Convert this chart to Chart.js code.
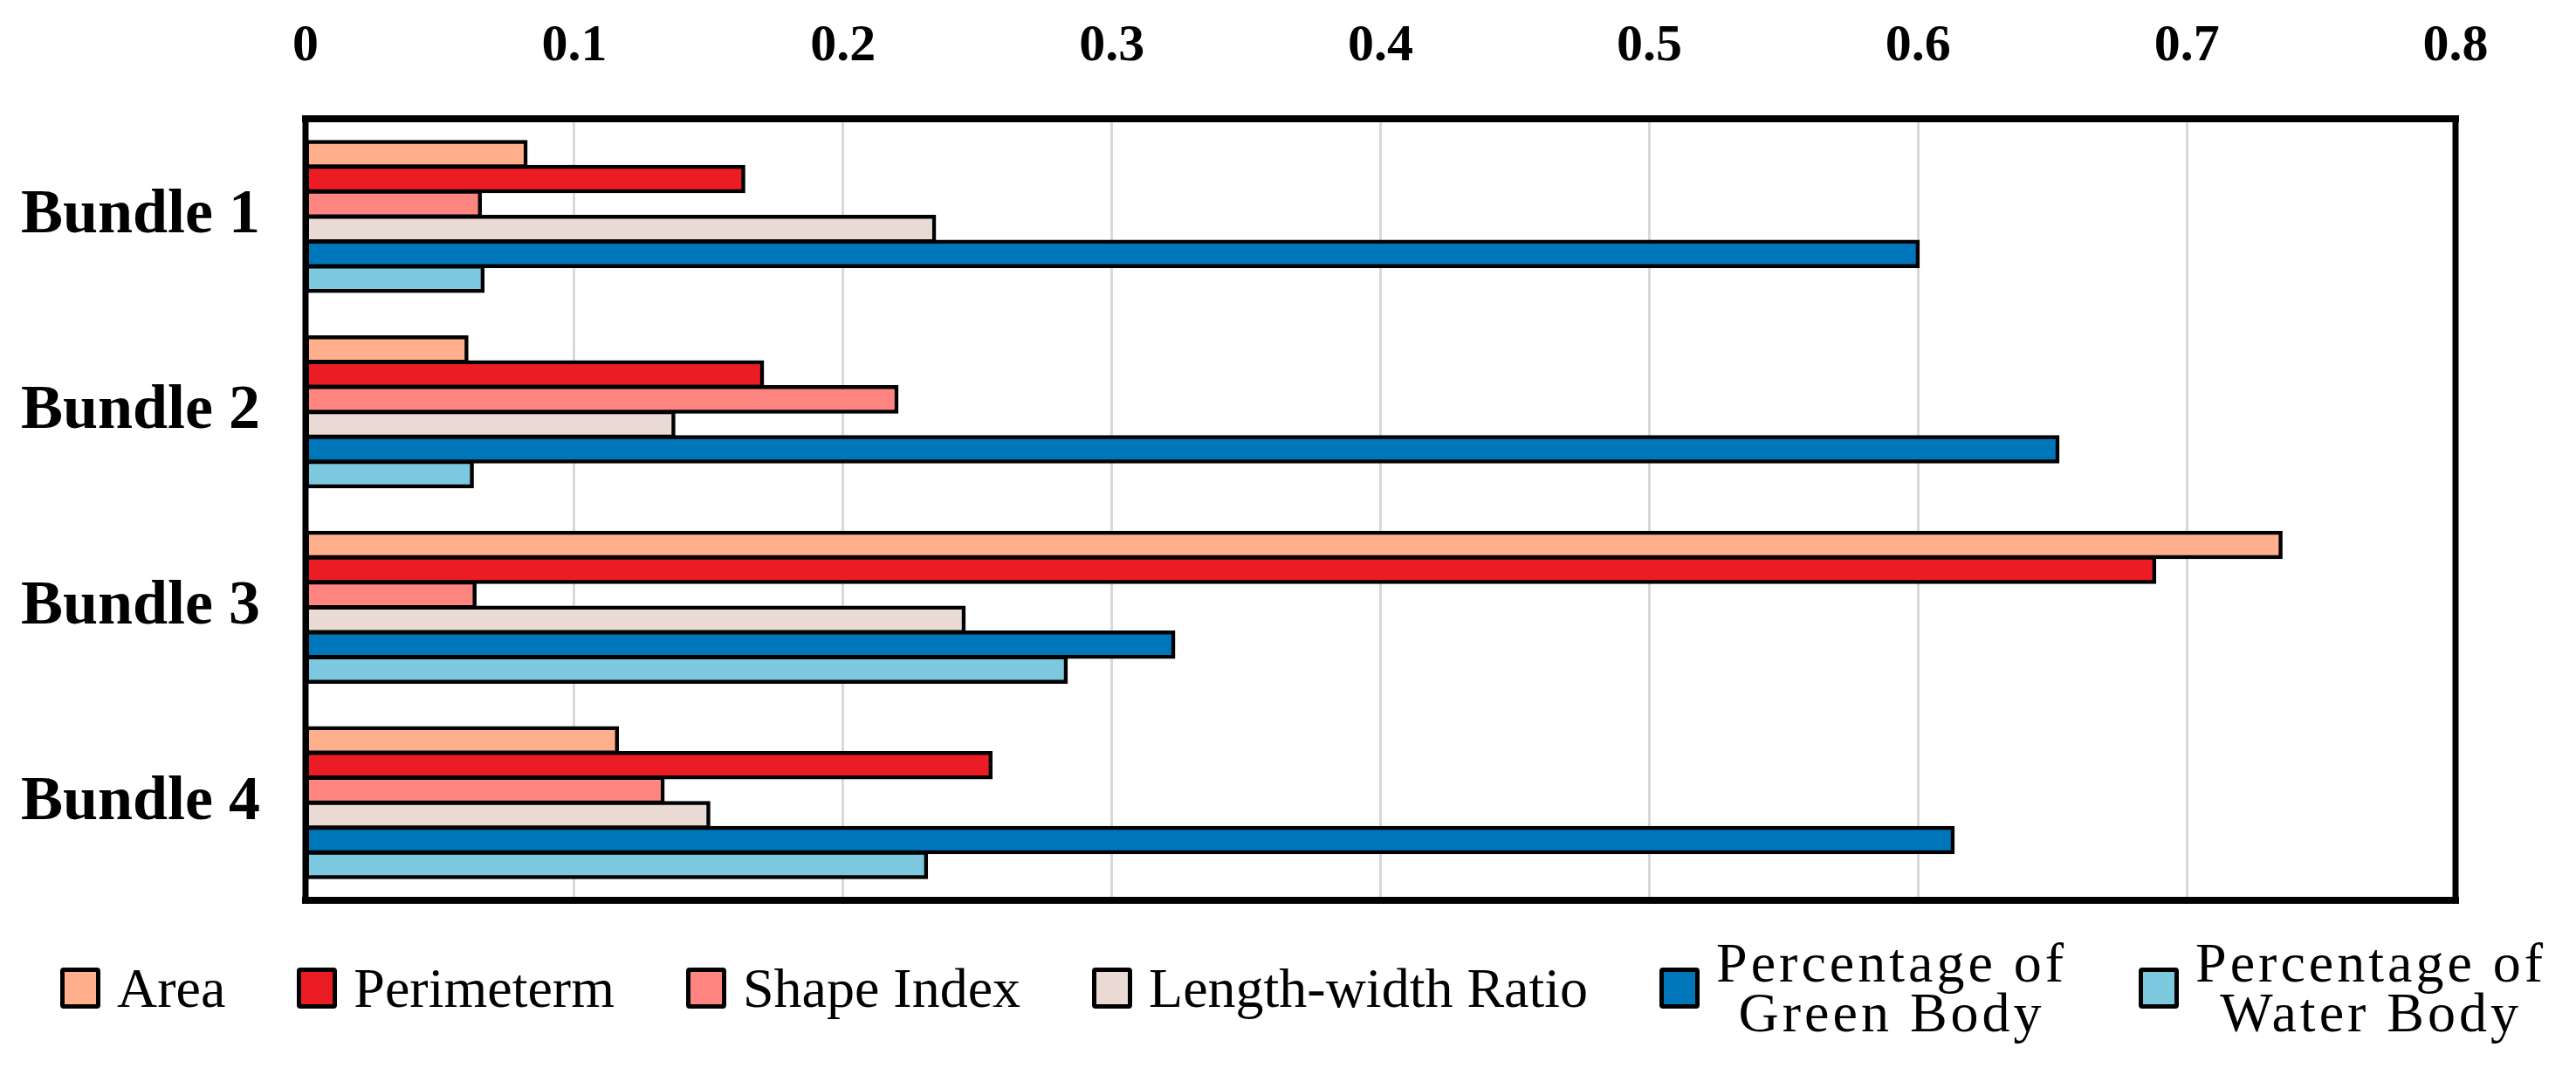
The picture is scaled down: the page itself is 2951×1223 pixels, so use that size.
<!DOCTYPE html>
<html>
<head>
<meta charset="utf-8">
<script src="https://cdn.jsdelivr.net/npm/chart.js@4.4.1/dist/chart.umd.min.js"></script>
<style>
  html, body { margin: 0; padding: 0; background: #ffffff; }
  #wrap { position: relative; width: 2951px; height: 1223px; background: #ffffff; overflow: hidden; }
  #chart { position: absolute; left: 0; top: 0; }
  #legend {
    position: absolute; left: 69px; top: 1074px; height: 114px;
    display: flex; align-items: center;
    font-family: 'Liberation Serif', 'Times New Roman', serif;
    font-size: 64px; line-height: 57px; color: #000;
  }
  .item { display: flex; align-items: center; margin-right: 82px; }
  .item:last-child { margin-right: 0; }
  .box {
    width: 46px; height: 47px; box-sizing: border-box;
    border: 5px solid #000; border-radius: 4px; margin-right: 19px; flex: none;
  }
  .txt { white-space: pre-line; text-align: center; }
  .txt.multi { letter-spacing: 4px; }
</style>
</head>
<body>
<div id="wrap">
  <canvas id="chart" width="2951" height="1223"></canvas>
  <div id="legend"></div>
</div>
<script>
// ---- data ----
const categories = ['Bundle 1', 'Bundle 2', 'Bundle 3', 'Bundle 4'];
const seriesNames = ['Area', 'Perimeterm', 'Shape Index', 'Length-width Ratio', 'Percentage of\nGreen Body', 'Percentage of\nWater Body'];
const area        = [0.082, 0.060, 0.735, 0.116];
const perimeter   = [0.163, 0.170, 0.688, 0.255];
const shapeIndex  = [0.065, 0.220, 0.063, 0.133];
const lengthWidth = [0.234, 0.137, 0.245, 0.150];
const greenBody   = [0.600, 0.652, 0.323, 0.613];
const waterBody   = [0.066, 0.062, 0.283, 0.231];
const tickLabels  = ['0', '0.1', '0.2', '0.3', '0.4', '0.5', '0.6', '0.7', '0.8'];

// ---- styles ----
const seriesColors = ['#FFAF8B', '#EC1C24', '#FF8580', '#E9DAD4', '#0076BA', '#7CC8DF'];
const seriesValues = [area, perimeter, shapeIndex, lengthWidth, greenBody, waterBody];
const FONT = "'Liberation Serif', 'Times New Roman', serif";

const datasets = seriesValues.map((vals, i) => ({
  label: seriesNames[i].replace('\n', ' '),
  data: vals,
  backgroundColor: seriesColors[i],
  borderColor: '#000000',
  borderWidth: 4.5,
  borderSkipped: false,
  inflateAmount: 2,
  categoryPercentage: 0.765,
  barPercentage: 1.0
}));

const framePlugin = {
  id: 'frame',
  afterDatasetsDraw(chart) {
    const { ctx, chartArea: a } = chart;
    ctx.save();
    ctx.strokeStyle = '#000000';
    ctx.lineCap = 'square';
    ctx.lineWidth = 8;
    ctx.beginPath();
    ctx.moveTo(a.left, a.top); ctx.lineTo(a.right, a.top);
    ctx.moveTo(a.left, a.bottom); ctx.lineTo(a.right, a.bottom);
    ctx.stroke();
    ctx.lineWidth = 7;
    ctx.beginPath();
    ctx.moveTo(a.left, a.top); ctx.lineTo(a.left, a.bottom);
    ctx.moveTo(a.right, a.top); ctx.lineTo(a.right, a.bottom);
    ctx.stroke();
    ctx.restore();
  }
};

new Chart(document.getElementById('chart'), {
  type: 'bar',
  data: { labels: categories, datasets },
  options: {
    indexAxis: 'y',
    responsive: false,
    animation: false,
    layout: { padding: { left: 0, top: 0, right: 138, bottom: 192 } },
    plugins: { legend: { display: false }, tooltip: { enabled: false } },
    scales: {
      x: {
        position: 'top',
        min: 0, max: 0.8,
        ticks: {
          stepSize: 0.1,
          padding: 53,
          color: '#000000',
          font: { family: FONT, size: 60, weight: 'bold', lineHeight: 1 },
          maxRotation: 0, autoSkip: false,
          callback: (v, i) => tickLabels[i]
        },
        grid: { color: '#D9D9D9', lineWidth: 3, drawTicks: false },
        border: { display: false },
        afterFit(scale) { scale.height = 136; }
      },
      y: {
        ticks: {
          padding: 52,
          color: '#000000',
          font: { family: FONT, size: 72, weight: 'bold', lineHeight: 1 }
        },
        grid: { display: false, drawTicks: false },
        border: { display: false },
        afterFit(scale) { scale.width = 350; }
      }
    }
  },
  plugins: [framePlugin]
});

// ---- HTML legend ----
const legend = document.getElementById('legend');
seriesNames.forEach((name, i) => {
  const item = document.createElement('div');
  item.className = 'item';
  const box = document.createElement('div');
  box.className = 'box';
  box.style.background = seriesColors[i];
  const txt = document.createElement('div');
  txt.className = 'txt' + (name.includes('\n') ? ' multi' : '');
  txt.textContent = name;
  item.appendChild(box);
  item.appendChild(txt);
  legend.appendChild(item);
});
</script>
</body>
</html>
